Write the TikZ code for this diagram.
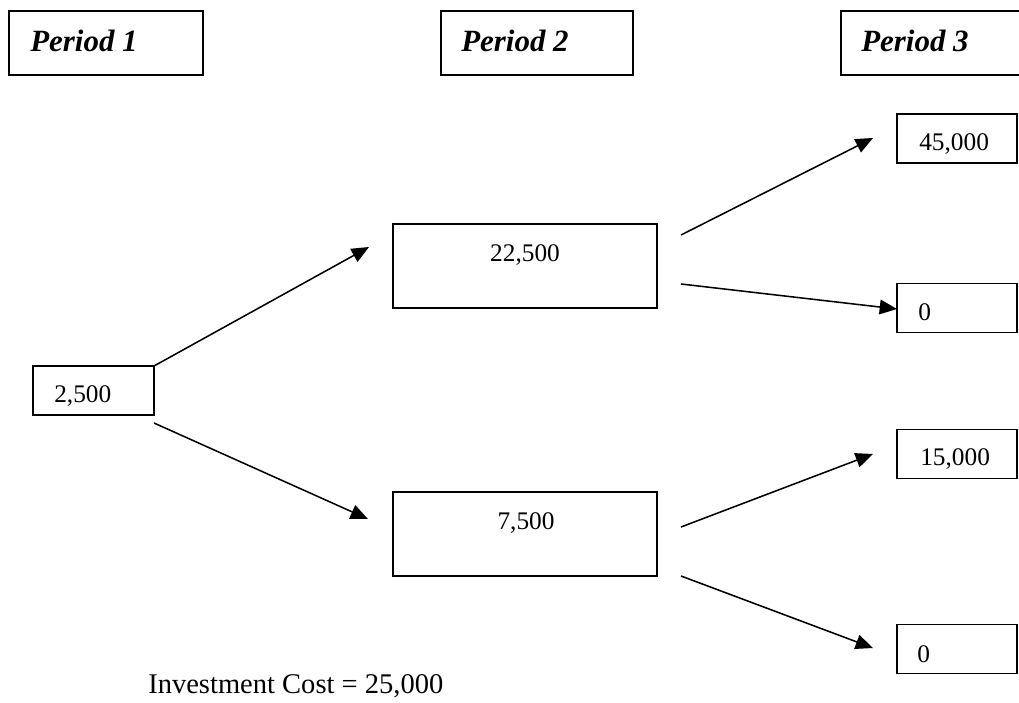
\documentclass[tikz,border=0pt]{standalone}
\usepackage{fontspec}
\setmainfont{Liberation Serif}
\usetikzlibrary{arrows.meta}

\tikzset{
  box/.style={draw, line width=1.1pt, inner sep=0pt},
  val/.style={font=\fontsize{19}{23}\selectfont, inner sep=0pt},
  head/.style={font=\fontsize{23.2}{28}\selectfont\bfseries\itshape, inner sep=0pt},
  tree/.style={-{Triangle[length=13pt,width=11pt]}, line width=1.15pt},
}

\begin{document}
\begin{tikzpicture}[x=0.75pt,y=-0.75pt]
	\useasboundingbox (0,0) rectangle (1019,702);
	\clip (0,0) rectangle (1019,702);

	% period headings
	\node[box, minimum width=145.5pt, minimum height=48pt] (per1) at (106,43) {};
	\node[box, minimum width=144pt,   minimum height=48pt] (per2) at (537,43) {};
	\node[box, minimum width=150pt,   minimum height=48pt] (per3) at (941,43) {};
	\node[head, anchor=base west] (per1txt) at (30,52)  {Period 1};
	\node[head, anchor=base west] (per2txt) at (461,52) {Period 2};
	\node[head, anchor=base west] (per3txt) at (861,52) {Period 3};

	% value boxes
	\node[box, minimum width=90.75pt, minimum height=36.75pt] (start) at (93.5,390.5) {};
	\node[box, minimum width=198pt, minimum height=63pt] (up)   at (525,266) {};
	\node[box, minimum width=198pt, minimum height=63pt] (down) at (525,534) {};
	\node[box, minimum width=90pt, minimum height=36.75pt] (uu) at (957,138.5) {};
	\node[box, minimum width=90pt, minimum height=36.75pt] (ud) at (957,308) {};
	\node[box, minimum width=90pt, minimum height=36.75pt] (du) at (957,454) {};
	\node[box, minimum width=90pt, minimum height=36.75pt] (dd) at (957,649) {};

	\node[val, anchor=base west] (starttxt) at (54,402)  {2,500};
	\node[val, anchor=base]      (uptxt)    at (525,261) {22,500};
	\node[val, anchor=base]      (downtxt)  at (526,529) {7,500};
	\node[val, anchor=base west] (uutxt)    at (919,151) {45,000};
	\node[val, anchor=base west] (udtxt)    at (918,320) {0};
	\node[val, anchor=base west] (dutxt)    at (920,465) {15,000};
	\node[val, anchor=base west] (ddtxt)    at (917,662) {0};

	% arrow ends
	\coordinate (a1) at (154,366);
	\coordinate (b1) at (369,247);
	\coordinate (a2) at (154,423);
	\coordinate (b2) at (368,519);
	\coordinate (c1) at (681,235);
	\coordinate (d1) at (873,138);
	\coordinate (c2) at (681,284);
	\coordinate (d2) at (897,309);
	\coordinate (c3) at (681,527);
	\coordinate (d3) at (873,454);
	\coordinate (c4) at (681,576);
	\coordinate (d4) at (873,648);

	\draw[tree] (a1) -- (b1);
	\draw[tree] (a2) -- (b2);
	\draw[tree] (c1) -- (d1);
	\draw[tree] (c2) -- (d2);
	\draw[tree] (c3) -- (d3);
	\draw[tree] (c4) -- (d4);

	\node[font=\fontsize{21.4}{26}\selectfont, inner sep=0pt, anchor=base west] (cost) at (148,693) {Investment Cost = 25,000};
\end{tikzpicture}
\end{document}
